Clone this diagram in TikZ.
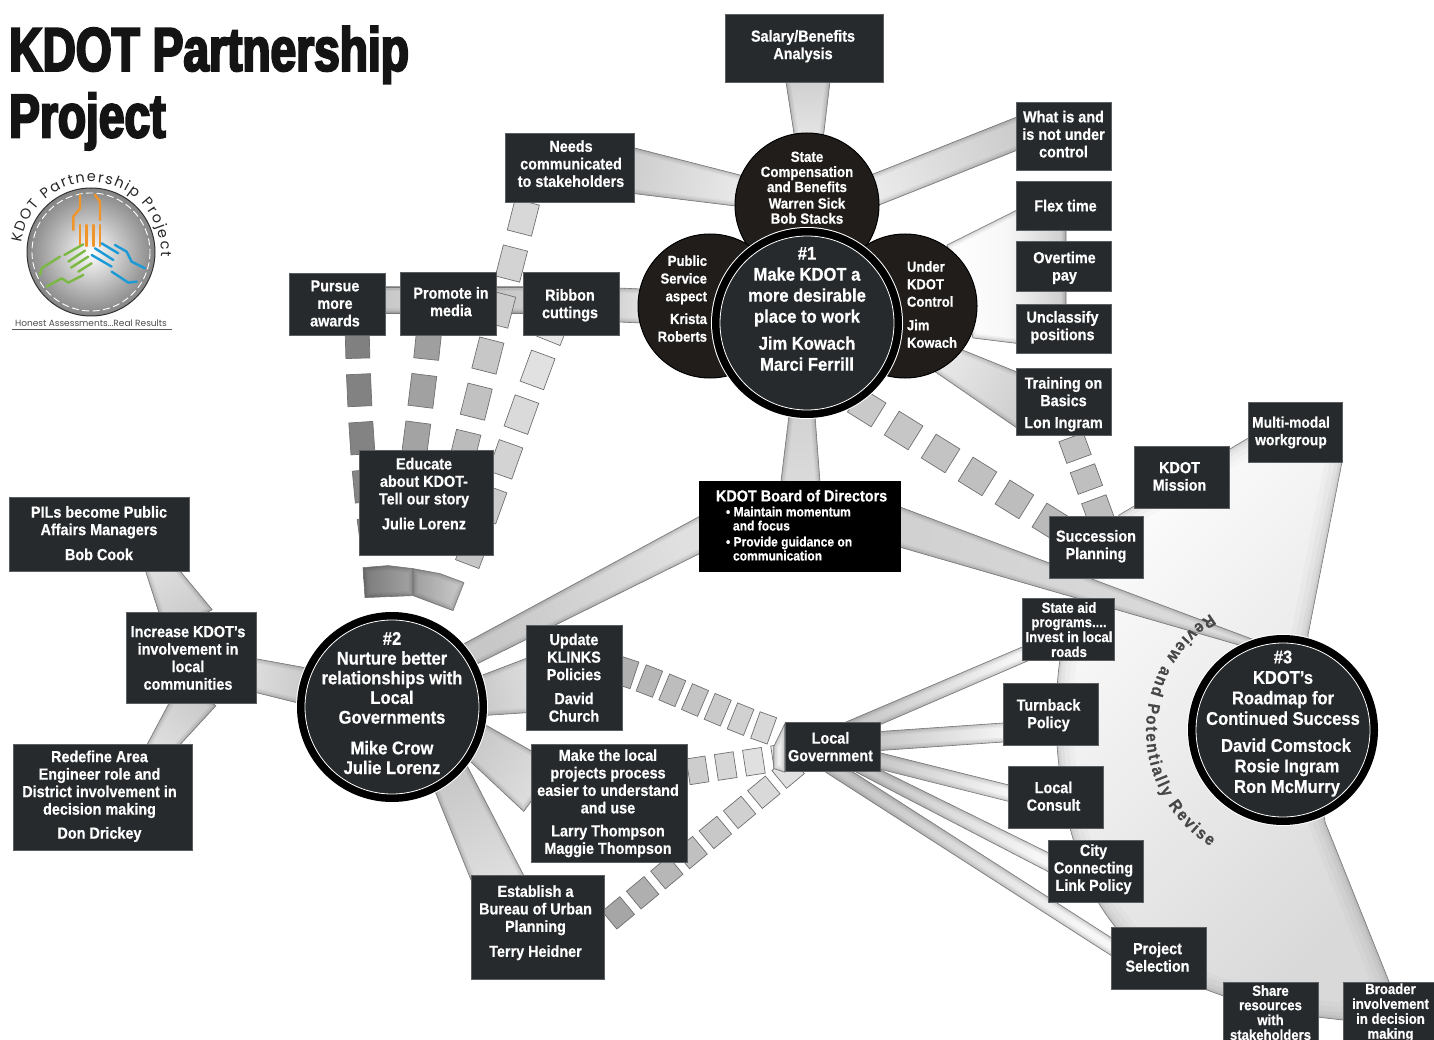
\documentclass[tikz,border=0pt]{standalone}
\usepackage{fontspec}
\setmainfont[FakeStretch=0.9,BoldFeatures={FakeBold=0.6}]{Liberation Sans}
\newfontfamily\titlefont[FakeStretch=0.75,FakeBold=3.5]{Liberation Sans}
\newfontfamily\logofont{Poppins}
\usetikzlibrary{calc,decorations.markings,decorations.text}
\pgfdeclarelayer{bg}
\pgfsetlayers{bg,main}
\definecolor{boxfill}{HTML}{262A2C}
\definecolor{satfill}{HTML}{201D1B}
\definecolor{edgecol}{HTML}{777777}
\definecolor{dashedge}{HTML}{707070}
\definecolor{ca}{gray}{0.8}
\definecolor{cb}{gray}{0.9}
\newdimen\bxa \newdimen\bya \newdimen\bxb \newdimen\byb
% text whose box has no size: the node keeps the size its style gives it
\newcommand\txta[4]{\raisebox{\dimexpr#1pt-0.25em-2.7pt\relax}[0pt][0pt]{\hspace*{#2pt}\makebox[0pt][#3]{\begin{tabular}{@{}#3@{}}#4\end{tabular}}\hspace*{-#2pt}}}
\newcommand\txt[3][0]{\txta{#2}{#1}{c}{#3}}
\newcommand\bx[7][boxn]{%
  \pgfmathsetmacro\bw{#5-#3}\pgfmathsetmacro\bh{#6-#4}%
  \pgfmathsetmacro\cx{(#3+#5)/2}\pgfmathsetmacro\cy{(#4+#6)/2}%
  \node[#1,minimum width=\bw pt,minimum height=\bh pt] (#2) at (\cx,\cy) {#7};}
\def\shadowlist{9/.04,6/.05,3/.06,1.2/.08}
\newcommand\poly[2][]{%
  \path[#1] #2;
  \begin{scope}\clip #2;
    \foreach \wd/\op in \shadowlist {\draw[black,opacity=\op,line width=\wd pt] #2;}
  \end{scope}
  \draw[edgecol,line width=.6pt] #2;}
\newcommand\bandcols[2]{\definecolor{ca}{gray}{#1}\definecolor{cb}{gray}{#2}}
\newcommand\band[6]{%
  \coordinate (A) at ($(#1.center)+(#2)$);
  \coordinate (B) at ($(#3.center)+(#4)$);
  \pgfextractx{\bxa}{\pgfpointanchor{A}{center}}\pgfextracty{\bya}{\pgfpointanchor{A}{center}}%
  \pgfextractx{\bxb}{\pgfpointanchor{B}{center}}\pgfextracty{\byb}{\pgfpointanchor{B}{center}}%
  \pgfmathsetmacro\bang{atan2(\byb-\bya,\bxb-\bxa)-90}%
  \pgfmathsetmacro\wa{#5/2}\pgfmathsetmacro\wb{#6/2}%
  \coordinate (P1) at ($(A)!\wa pt!90:(B)$);
  \coordinate (P2) at ($(B)!\wb pt!-90:(A)$);
  \coordinate (P3) at ($(B)!\wb pt!90:(A)$);
  \coordinate (P4) at ($(A)!\wa pt!-90:(B)$);
  \coordinate (Q1) at ($(P1)!-12pt!(P2)$);
  \coordinate (Q2) at ($(P2)!-12pt!(P1)$);
  \coordinate (Q3) at ($(P3)!-12pt!(P4)$);
  \coordinate (Q4) at ($(P4)!-12pt!(P3)$);
  \poly[top color=cb,bottom color=ca,shading angle=\bang]{(Q1)--(Q2)--(Q3)--(Q4)--cycle}}
% path, first, step, last, along, across, gray at start, gray at end
\newcommand\dashes[8]{%
  \pgfmathsetmacro\dal{#5/2}\pgfmathsetmacro\dac{#6/2}%
  \path[postaction={decorate},decoration={markings,mark=between positions #2pt and #4pt step #3pt with {
      \pgfkeysgetvalue{/pgf/decoration/mark info/distance from start}\dd
      \pgfmathsetmacro\gg{#7+(#8-#7)*\dd/\pgfdecoratedpathlength}
      \definecolor{dc}{gray}{\gg}
      \draw[dashedge,line width=.7pt,fill=dc] (-\dal,-\dac) rectangle (\dal,\dac);}}] #1;}
\tikzset{
  boxbase/.style={rectangle,fill=boxfill,draw=boxfill!75!white,line width=.5pt,inner sep=0pt,text=white},
  boxn/.style={boxbase,font=\fontsize{16}{17.5}\selectfont\bfseries},
  boxs/.style={boxbase,font=\fontsize{14.6}{14.4}\selectfont\bfseries},
  boxm/.style={boxbase,font=\fontsize{15.4}{17.5}\selectfont\bfseries},
  boardbox/.style={rectangle,fill=black,inner sep=0pt,text=white,font=\fontsize{13.4}{14}\selectfont\bfseries},
  bigc/.style={circle,inner sep=0pt,minimum size=174pt,fill=boxfill,text=white,
    preaction={draw=white,line width=18pt},preaction={draw=black,line width=16pt},
    draw=white,line width=.8pt},
  satc/.style={circle,inner sep=0pt,minimum size=144pt,fill=satfill,draw=black,line width=1pt,text=white},
  orangeln/.style={draw={rgb,255:red,240;green,149;blue,43},line width=2.4pt,line cap=round,line join=round},
  greenln/.style={draw={rgb,255:red,124;green,184;blue,68},line width=2.4pt,line cap=round,line join=round},
  blueln/.style={draw={rgb,255:red,28;green,154;blue,214},line width=2.4pt,line cap=round,line join=round},
}
\begin{document}
\begin{tikzpicture}[x=1pt,y=-1pt]
\useasboundingbox (0,0) rectangle (1434,1040);

% ---- nodes
\bx{salary}{725}{14}{883}{82}{\txt[-1]{3.5}{Salary/Benefits\\Analysis}}
\bx{needs}{505}{133}{634}{202}{\txt[1.5]{4}{Needs\\communicated\\to stakeholders}}
\bx{whatis}{1016}{102}{1111}{170}{\txt{2}{What is and\\is not under\\control}}
\bx{flex}{1016}{181}{1111}{230}{\txt[2]{0}{Flex time}}
\bx{overtime}{1016}{241}{1111}{291}{\txt[1]{0}{Overtime\\pay}}
\bx{unclass}{1016}{304}{1111}{353}{\txt[-1]{3}{Unclassify\\positions}}
\bx{train}{1016}{368}{1111}{435}{\txt{-1}{Training on\\Basics\\[4.5pt]Lon Ingram}}
\bx{pursue}{289}{273}{385}{335}{\txt[-2]{1}{Pursue\\more\\awards}}
\bx{promote}{400}{272}{496}{335}{\txt[3]{2}{Promote in\\media}}
\bx{ribbon}{523}{272}{619}{335}{\txt[-1]{0}{Ribbon\\cuttings}}
\bx{educate}{359}{450}{493}{555}{\txt[-2]{9}{Educate\\about KDOT-\\Tell our story\\[7.5pt]Julie Lorenz}}
\bx{pils}{9}{497}{189}{571}{\txt{1}{PILs become Public\\Affairs Managers\\[7.5pt]Bob Cook}}
\bx{increase}{126}{612}{256}{703}{\txt[-3]{0}{Increase KDOT's\\involvement in\\local\\communities}}
\bx{redefine}{13}{744}{192}{850}{\txt[-3]{2.5}{Redefine Area\\Engineer role and\\District involvement in\\decision making\\[6.5pt]Don Drickey}}
\bx{update}{526}{625}{622}{730}{\txt{0}{Update\\KLINKS\\Policies\\[6.5pt]David\\Church}}
\bx{makelocal}{531}{744}{687}{862}{\txt[-1]{1.5}{Make the local\\projects process\\easier to understand\\and use\\[5.5pt]Larry Thompson\\Maggie Thompson}}
\bx{establish}{471}{875}{604}{979}{\txt[-2]{6}{Establish a\\Bureau of Urban\\Planning\\[7.5pt]Terry Heidner}}
\bx{localgov}{785}{722}{880}{771}{\txt[-2]{0}{Local\\Government}}
\bx{succession}{1049}{516}{1143}{578}{\txt{2.5}{Succession\\Planning}}
\bx{mission}{1134}{446}{1229}{508}{\txt[-2]{1}{KDOT\\Mission}}
\bx[boxm]{multi}{1248}{402}{1342}{462}{\txt[-4]{2}{Multi-modal\\workgroup}}
\bx[boxs]{stateaid}{1022}{598}{1114}{660}{\txt[1]{0}{State aid\\programs....\\Invest in local\\roads}}
\bx{turnback}{1003}{683}{1098}{745}{\txt[-2]{0.5}{Turnback\\Policy}}
\bx{consult}{1008}{766}{1103}{828}{\txt[-2]{1}{Local\\Consult}}
\bx{city}{1048}{840}{1143}{902}{\txt[-2]{3.5}{City\\Connecting\\Link Policy}}
\bx{project}{1111}{927}{1206}{989}{\txt[-1]{1}{Project\\Selection}}
\bx[boxs]{share}{1223}{982}{1318}{1040}{\txt{-1}{Share\\resources\\with\\stakeholders}}
\bx[boxs]{broader}{1343}{982}{1434}{1040}{\txt[2]{0.5}{Broader\\involvement\\in decision\\making}}
\bx[boardbox]{board}{699}{481}{901}{572}{\txta{1.7}{-84}{l}{{\fontsize{16}{17}\selectfont KDOT Board of Directors}\\[1pt]\hspace*{10pt}\textbullet\ Maintain momentum\\\hspace*{17pt}and focus\\[2pt]\hspace*{10pt}\textbullet\ Provide guidance on\\\hspace*{17pt}communication}}

\node[satc,font=\fontsize{14.8}{14.5}\selectfont\bfseries] (statecomp) at (807,205) {\txt{18}{State\\Compensation\\and Benefits\\[1.5pt]Warren Sick\\Bob Stacks}};
\node[satc,font=\fontsize{14.5}{17.7}\selectfont\bfseries] (public) at (710,306) {\txta{8.5}{-3}{r}{Public\\Service\\aspect\\[5pt]Krista\\Roberts}};
\node[satc,font=\fontsize{14.5}{17.5}\selectfont\bfseries] (under) at (905,306) {\txta{2.5}{2}{l}{Under\\KDOT\\Control\\[6pt]Jim\\Kowach}};
\node[bigc,font=\fontsize{18.4}{21}\selectfont\bfseries] (one) at (807,323) {\txt{15}{\#1\\Make KDOT a\\more desirable\\place to work\\[6pt]Jim Kowach\\Marci Ferrill}};
\node[bigc,font=\fontsize{18.4}{19.7}\selectfont\bfseries] (two) at (392,707) {\txt{4.5}{\#2\\Nurture better\\relationships with\\Local\\Governments\\[11pt]Mike Crow\\Julie Lorenz}};
\node[bigc,font=\fontsize{18.4}{20.5}\selectfont\bfseries] (three) at (1283,730) {\txt{9}{\#3\\KDOT's\\Roadmap for\\Continued Success\\[6.5pt]\hspace*{6pt}David Comstock\\\hspace*{8pt}Rosie Ingram\\\hspace*{8pt}Ron McMurry}};

% ---- connectors, under the nodes
\begin{pgfonlayer}{bg}
\def\shadowlist{34/.018,24/.022,14/.03,7/.04,3/.06}
\poly[top color=black!1,bottom color=black!15,shading angle=45]{(1250,437) -- (1119,515) -- plot[smooth] coordinates {(1086,579) (1060,660) (1057,745) (1070,828) (1098,902) (1150,965) (1207,990) (1270,1010) (1343,1020)} -- (1390,984) -- (1325,822) -- (1308,635) -- (1342,462) -- (1342,437) -- cycle}
\def\shadowlist{9/.04,6/.05,3/.06,1.2/.08}

\bandcols{.8}{.92}
\band{salary}{4,34}{statecomp}{2,-65}{44}{28}
\band{needs}{64.5,3.5}{statecomp}{-67,-14}{45}{31}
\band{whatis}{-47.5,-2}{statecomp}{68,-15}{31}{31}
\poly[left color=white,right color=black!20,middle color=black!3]{($(under.center)+(42,-61)$) -- ($(flex.center)+(2.5,-20)$) -- ($(unclass.center)+(2.5,21)$) -- ($(under.center)+(68,32)$) -- cycle}
\band{train}{-43.5,-1.5}{under}{35,51}{50}{30}
\band{ribbon}{48,1.5}{public}{-69,0}{34}{34}
\bandcols{.72}{.86}
\band{pursue}{0,-4}{promote}{0,-3.5}{26}{26}
\band{promote}{0,-3.5}{ribbon}{0,-3.5}{26}{26}
\bandcols{.82}{.86}
\band{one}{-5,92}{board}{0.5,-45}{26}{39}
\band{board}{102,1.5}{three}{-40,-89}{38}{10}
\bandcols{.78}{.88}
\band{two}{81,-54.5}{board}{-103,10}{24}{33}
\band{two}{95,-12}{update}{-48,9}{41}{53}
\band{two}{88,37}{makelocal}{-78,-21.5}{39}{54}
\band{two}{60,73}{establish}{-39.5,-47}{40}{50}
\band{two}{-92,-22}{increase}{65,18}{36}{33}
\band{increase}{-7.5,-45.5}{pils}{62,37}{48}{30}
\band{increase}{0.5,45.5}{redefine}{60,-53}{40}{27}
\bandcols{.78}{.97}
\band{localgov}{17.5,-17.5}{stateaid}{-42,24.5}{16}{15}
\band{localgov}{47.5,-5.5}{turnback}{-47.5,18.5}{19}{19}
\band{localgov}{47.5,14.5}{consult}{-47.5,-4}{16}{16}
\band{localgov}{37.5,25.5}{city}{-47.5,-9}{13}{17}
\band{localgov}{7.5,26}{project}{-47.5,-11.5}{15}{15}

% dashed connectors
\dashes{($(pursue.south)+(20,-15)$) .. controls (358,380) and (362,480) .. ($(two.north)+(-17,-60)$)}{22}{48}{240}{32}{24}{.5}{.53}
\dashes{($(promote.south)+(-18,-15)$) .. controls (426,370) and (412,470) .. ($(two.north)+(8,-60)$)}{23}{48}{240}{32}{25}{.62}{.66}
\dashes{($(needs.south)+(-40.5,-7)$) .. controls (505,290) and (470,420) .. ($(two.north)+(48,-65)$)}{23}{47.5}{330}{32}{25}{.86}{.68}
\dashes{($(ribbon.south)+(-8,-30)$) .. controls (535,370) and (500,480) .. ($(two.north)+(73,-50)$)}{22}{47.5}{260}{33}{25}{.92}{.76}
\dashes{($(update.east)+(-22,-12.5)$) .. controls (660,680) and (720,715) .. ($(localgov.west)+(0,-11.5)$)}{27}{24.7}{180}{17.5}{28}{.66}{.87}
\dashes{($(makelocal.east)+(-7,-30)$) -- ($(localgov.west)+(0,10.5)$)}{17.5}{28.5}{105}{19}{26}{.78}{.92}
\dashes{($(establish.east)+(-9,5)$) -- ($(localgov.south)+(-32.5,-9)$)}{30}{31.5}{262}{23}{23}{.62}{.9}
\dashes{($(one.center)+(30,66)$) -- ($(succession.west)+(26,-10)$)}{35}{43.5}{260}{28}{28}{.8}{.72}
\dashes{($(train.south)+(5,-5)$) -- ($(succession.north)+(9,14)$)}{19}{33}{90}{23}{26}{.76}{.74}
\poly[fill=black!6]{($(localgov.north west)+(0,2)$) -- ($(localgov.west)+(-11,0)$) -- ($(localgov.west)+(-11,22)$) -- ($(localgov.south west)+(0,1)$) -- cycle}

% the two merged blocks above #2
\poly[left color=black!52,right color=black!36]{($(two.north)+(-29,-52)$) -- ($(two.north)+(-4,-54)$) -- ($(two.north)+(21,-51)$) -- ($(two.north)+(21,-24)$) -- ($(two.north)+(-27,-22)$) -- cycle}
\poly[left color=black!38,right color=black!20]{($(two.north)+(21,-51)$) -- ($(two.north)+(48,-46)$) -- ($(two.north)+(72,-37)$) -- ($(two.north)+(61,-9)$) -- ($(two.north)+(21,-24)$) -- cycle}
\end{pgfonlayer}

% ---- review text
\begin{scope}[shift={(three.center)},x=1pt,y=1pt]
\path[decorate,decoration={text along path,text color=black!72,text align={fit to path},
  text={|\fontsize{17}{17}\selectfont\bfseries|Review and Potentially Revise}}] (122:137) arc (122:238:137);
\end{scope}

% ---- title
\node[anchor=north west,inner sep=0pt,align=left,text=black!92,font=\titlefont\bfseries\fontsize{61.5}{66.5}\selectfont] (title) at (9,26) {KDOT Partnership\\Project};

% ---- logo
\shade[inner color=white,outer color=black!48] (91,252) circle (64);
\draw[black!80,line width=1pt] (91,252) circle (64);
\draw[white,line width=.9pt,dash pattern=on 7pt off 3.5pt] (91,252) circle (59);
\begin{scope}[x=.3333pt,y=-.3333pt]
\draw[orangeln] (240,585) -- (240,625) -- (220,650) -- (220,690);
\draw[orangeln] (285,585) -- (300,605) -- (300,660);
\foreach \ox in {240,260,280,300}{\draw[orangeln] (\ox,675) -- (\ox,738);}
\draw[greenln] (120,825) -- (125,805) -- (180,770);
\draw[greenln] (193,765) -- (250,733);
\draw[greenln] (205,785) -- (255,752);
\draw[greenln] (213,803) -- (265,770);
\draw[greenln] (235,815) -- (275,790);
\draw[greenln] (140,860) -- (185,835) -- (205,848) -- (250,825);
\draw[blueln] (305,730) -- (355,760);
\draw[blueln] (285,745) -- (340,780);
\draw[blueln] (275,765) -- (335,800);
\draw[blueln] (345,735) -- (380,755) -- (395,785) -- (435,805);
\draw[blueln] (335,815) -- (385,848) -- (410,845);
\end{scope}
\begin{scope}[shift={(91,252)},x=1pt,y=1pt]
\path[decorate,decoration={text along path,text color=black!85,text align={fit to path},
  text={|\logofont\fontsize{14.5}{14.5}\selectfont|KDOT Partnership Project}}] (172:70) arc (172:-4:70);
\end{scope}
\node[inner sep=0pt,text=black!70,font=\logofont\fontsize{9}{9}\selectfont] (motto) at (91,323) {Honest Assessments...Real Results};
\coordinate (mottoL) at (12,329);
\coordinate (mottoR) at (172,329);
\draw[black!65,line width=.8pt] (mottoL) -- (mottoR);
\end{tikzpicture}
\end{document}
